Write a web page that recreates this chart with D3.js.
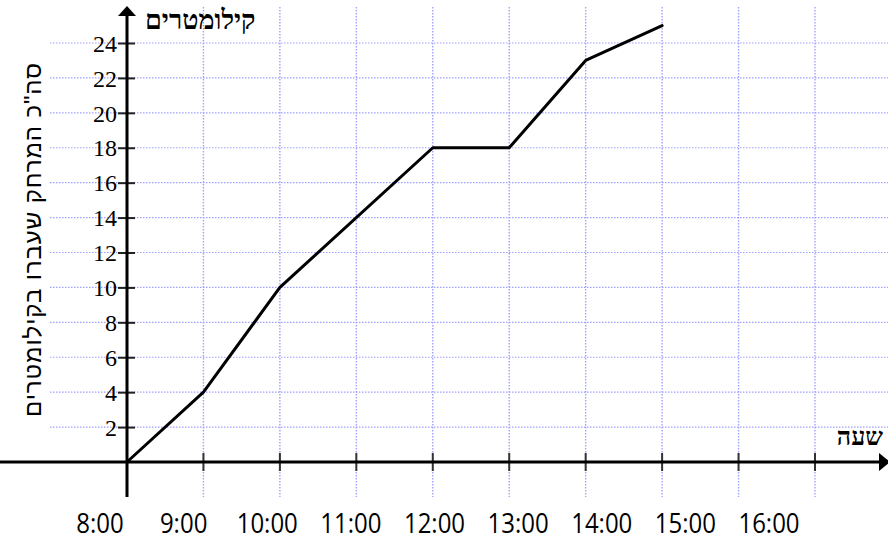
<!DOCTYPE html>
<html>
<head>
<meta charset="utf-8">
<script src="https://cdn.jsdelivr.net/npm/d3@7"></script>
<style>
  html, body { margin: 0; padding: 0; background: #fff; }
  svg { display: block; }
</style>
</head>
<body>
<svg id="chart" width="888" height="542"></svg>
<script>
// ---- data ----
const hours = [8, 9, 10, 12, 13, 14, 15];
const distances = [0, 4, 10, 18, 18, 23, 25];
const yTicks = [2, 4, 6, 8, 10, 12, 14, 16, 18, 20, 22, 24];
const xTicks = [9, 10, 11, 12, 13, 14, 15, 16, 17];
const xLabelHours = [8, 9, 10, 11, 12, 13, 14, 15, 16];
const xLabels = ["8:00", "9:00", "10:00", "11:00", "12:00", "13:00", "14:00", "15:00", "16:00"];
const yTitle = "סה\"כ המרחק שעברו בקילומטרים";
const yUnit = "קילומטרים";
const xUnit = "שעה";

// ---- layout ----
const W = 888, H = 542;
const svg = d3.select("#chart");
const x = d3.scaleLinear().domain([8, 17]).range([127, 815]);
const y = d3.scaleLinear().domain([0, 24]).range([462, 43]);
// label positions (labels in the original are spaced a bit wider than the grid)
const xLab = d3.scaleLinear().domain([8, 16]).range([100, 769]);

const gridColor = "#a0a0ff";

// horizontal grid
svg.append("g").selectAll("line").data(yTicks).join("line")
  .attr("x1", 50).attr("x2", W)
  .attr("y1", d => y(d)).attr("y2", d => y(d))
  .attr("stroke", gridColor).attr("stroke-width", 1.2)
  .attr("stroke-dasharray", "1.5,1.5");

// vertical grid
svg.append("g").selectAll("line").data(xTicks).join("line")
  .attr("x1", d => x(d)).attr("x2", d => x(d))
  .attr("y1", 7).attr("y2", 497)
  .attr("stroke", gridColor).attr("stroke-width", 1.4)
  .attr("stroke-dasharray", "1.5,1.5");

// y-axis ticks and labels
const yAxis = d3.axisLeft(y).tickValues(yTicks).tickSize(0).tickPadding(0);
const ya = svg.append("g").attr("transform", `translate(${x(8)},0)`).call(yAxis);
ya.select(".domain").remove();
ya.selectAll(".tick text")
  .attr("x", -10).attr("dy", "0.34em")
  .attr("font-family", "'Liberation Serif', 'Times New Roman', serif")
  .attr("font-size", 24).attr("fill", "#000");
ya.selectAll(".tick").append("line")
  .attr("x1", -9).attr("x2", 8).attr("y1", 0).attr("y2", 0)
  .attr("stroke", "#222").attr("stroke-width", 2);

// x-axis ticks
svg.append("g").selectAll("line").data(xTicks).join("line")
  .attr("x1", d => x(d)).attr("x2", d => x(d))
  .attr("y1", y(0) - 9).attr("y2", y(0) + 9)
  .attr("stroke", "#333").attr("stroke-width", 2);

// axes lines
svg.append("line").attr("x1", 0).attr("x2", W - 4)
  .attr("y1", y(0)).attr("y2", y(0))
  .attr("stroke", "#000").attr("stroke-width", 3);
svg.append("line").attr("x1", x(8)).attr("x2", x(8))
  .attr("y1", 14).attr("y2", 497)
  .attr("stroke", "#000").attr("stroke-width", 3);
// arrowheads
svg.append("path")
  .attr("d", `M${x(8) - 9},${16} L${x(8)},${6} L${x(8) + 9},${16} Z`)
  .attr("fill", "#000");
svg.append("path")
  .attr("d", `M${W - 9},${y(0) - 9} L${W + 2},${y(0)} L${W - 9},${y(0) + 9} Z`)
  .attr("fill", "#000");

// data line
const line = d3.line().x((d, i) => x(hours[i])).y(d => y(d));
svg.append("path").datum(distances)
  .attr("d", line)
  .attr("fill", "none").attr("stroke", "#000")
  .attr("stroke-width", 3).attr("stroke-linejoin", "round").attr("stroke-linecap", "round");

// x labels
svg.append("g").selectAll("text").data(xLabels).join("text")
  .attr("transform", (d, i) => `translate(${xLab(xLabelHours[i])},533) scale(1,1.12)`)
  .attr("text-anchor", "middle")
  .attr("font-family", "'Open Sans', 'Liberation Sans', sans-serif")
  .attr("font-size", 24).attr("fill", "#000")
  .text(d => d);

// unit labels
svg.append("text").attr("x", 145).attr("y", 29)
  .attr("font-family", "'Liberation Serif', serif").attr("font-weight", "bold")
  .attr("font-size", 27).attr("fill", "#000")
  .text(yUnit);
svg.append("text").attr("x", 883).attr("y", 445).attr("text-anchor", "end")
  .attr("font-family", "'Liberation Serif', serif").attr("font-weight", "bold")
  .attr("font-size", 25).attr("fill", "#000")
  .text(xUnit);

// y title
svg.append("text")
  .attr("transform", "translate(41,240) rotate(-90)")
  .attr("text-anchor", "middle")
  .attr("font-family", "'Liberation Sans', 'DejaVu Sans', sans-serif")
  .attr("font-size", 24).attr("fill", "#000")
  .attr("textLength", 354).attr("lengthAdjust", "spacing")
  .text(yTitle);
</script>
</body>
</html>
